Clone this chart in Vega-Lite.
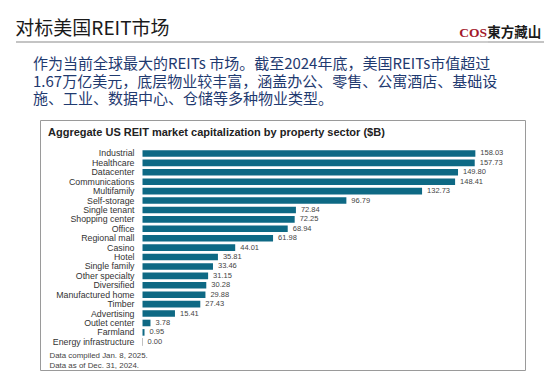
{
  "$schema": "https://vega.github.io/schema/vega-lite/v6.json",
  "background": "white",
  "autosize": {"type": "pad"},
  "padding": {"left": 15, "top": 20, "right": 7, "bottom": 8},
  "config": {
    "view": {"stroke": null},
    "font": "Liberation Sans",
    "title": {"fontWeight": "normal"}
  },
  "bounds": "flush",
  "spacing": 78,
  "vconcat": [
    {
      "bounds": "flush",
      "spacing": 0,
      "hconcat": [
        {
          "width": 444, "height": 0.01,
          "title": {"text": "对标美国REIT市场", "anchor": "start", "font": "Noto Sans CJK SC", "fontSize": 19, "fontWeight": "normal", "color": "#1a1a1a", "baseline": "alphabetic", "offset": -13},
          "data": {"values": [{"part": "divider"}]},
          "mark": {"type": "rule", "color": "#b0b0b0", "strokeWidth": 1.3},
          "encoding": {"y": {"datum": 1, "type": "quantitative", "scale": {"domain": [0, 1]}, "axis": null}}
        },
        {
          "width": 28, "height": 0.01,
          "title": {"text": "COS", "anchor": "start", "font": "Liberation Serif", "fontSize": 13.5, "fontWeight": "bold", "color": "#a3192b", "baseline": "alphabetic", "offset": -9},
          "data": {"values": [{"part": "divider"}]},
          "mark": {"type": "rule", "color": "#b0b0b0", "strokeWidth": 1.3},
          "encoding": {"y": {"datum": 1, "type": "quantitative", "scale": {"domain": [0, 1]}, "axis": null}}
        },
        {
          "width": 56, "height": 0.01,
          "title": {"text": "東方藏山", "anchor": "start", "font": "Noto Sans CJK TC", "fontSize": 13.5, "fontWeight": "bold", "color": "#1a1a1a", "baseline": "alphabetic", "offset": -9},
          "data": {"values": [{"part": "divider"}]},
          "mark": {"type": "rule", "color": "#b0b0b0", "strokeWidth": 1.3},
          "encoding": {"y": {"datum": 1, "type": "quantitative", "scale": {"domain": [0, 1]}, "axis": null}}
        }
      ]
    },
    {
      "bounds": "flush",
      "spacing": 0,
      "title": {
        "text": [
          "作为当前全球最大的REITs 市场。截至2024年底，美国REITs市值超过",
          "1.67万亿美元，底层物业较丰富，涵盖办公、零售、公寓酒店、基础设",
          "施、工业、数据中心、仓储等多种物业类型。"
        ],
        "anchor": "start", "dx": 17, "offset": 12.5,
        "font": "Noto Sans CJK SC", "fontSize": 15, "fontWeight": "normal",
        "lineHeight": 17.3, "color": "#1f3a70"
      },
      "hconcat": [
        {
          "width": 24, "height": 250,
          "data": {"values": []},
          "mark": "point"
        },
        {
          "width": 485, "height": 250,
          "view": {"stroke": "#9a9a9a", "strokeWidth": 1},
          "title": {"text": "Aggregate US REIT market capitalization by property sector ($B)", "anchor": "start", "dx": 8, "offset": -26.5, "baseline": "alphabetic", "font": "Liberation Sans", "fontSize": 11, "fontWeight": "bold", "color": "#222222"},
          "data": {"values": [
            {"sector": "Industrial", "value": 158.03},
            {"sector": "Healthcare", "value": 157.73},
            {"sector": "Datacenter", "value": 149.80},
            {"sector": "Communications", "value": 148.41},
            {"sector": "Multifamily", "value": 132.73},
            {"sector": "Self-storage", "value": 96.79},
            {"sector": "Single tenant", "value": 72.84},
            {"sector": "Shopping center", "value": 72.25},
            {"sector": "Office", "value": 68.94},
            {"sector": "Regional mall", "value": 61.98},
            {"sector": "Casino", "value": 44.01},
            {"sector": "Hotel", "value": 35.81},
            {"sector": "Single family", "value": 33.46},
            {"sector": "Other specialty", "value": 31.15},
            {"sector": "Diversified", "value": 30.28},
            {"sector": "Manufactured home", "value": 29.88},
            {"sector": "Timber", "value": 27.43},
            {"sector": "Advertising", "value": 15.41},
            {"sector": "Outlet center", "value": 3.78},
            {"sector": "Farmland", "value": 0.95},
            {"sector": "Energy infrastructure", "value": 0.00}
          ]},
          "encoding": {
            "y": {
              "field": "sector", "type": "nominal",
              "sort": ["Industrial", "Healthcare", "Datacenter", "Communications", "Multifamily", "Self-storage", "Single tenant", "Shopping center", "Office", "Regional mall", "Casino", "Hotel", "Single family", "Other specialty", "Diversified", "Manufactured home", "Timber", "Advertising", "Outlet center", "Farmland", "Energy infrastructure"],
              "scale": {"paddingInner": 0.3, "paddingOuter": 0, "range": [30.2, 225.1]},
              "axis": {"title": null, "offset": -102.5, "domain": false, "ticks": false, "labelPadding": 8.5, "labelFontSize": 8.8, "labelColor": "#333333", "labelFont": "Liberation Sans"}
            }
          },
          "layer": [
            {
              "mark": {"type": "bar", "color": "#0e6984"},
              "encoding": {
                "x": {
                  "field": "value", "type": "quantitative",
                  "scale": {"domain": [-48.67, 181.6], "nice": false, "zero": false},
                  "axis": {
                    "labels": false, "ticks": false, "domain": false, "grid": false,
                    "offset": -19,
                    "title": ["Data compiled Jan. 8, 2025.", "Data as of Dec. 31, 2024."],
                    "titleAnchor": "start", "titleAlign": "left", "titleX": 9, "titleBaseline": "top",
                    "titlePadding": 0, "titleFontSize": 7.9, "titleFontWeight": "normal", "titleColor": "#444444", "titleLineHeight": 10, "titleFont": "Liberation Sans"
                  }
                }
              }
            },
            {
              "mark": {"type": "rule", "color": "#c0c0c0", "strokeWidth": 1},
              "encoding": {
                "x": {"datum": 0, "type": "quantitative"},
                "y": {"datum": "Energy infrastructure", "type": "nominal", "bandPosition": 0},
                "y2": {"datum": "Energy infrastructure", "bandPosition": 1}
              }
            },
            {
              "mark": {"type": "text", "align": "left", "baseline": "middle", "dx": 5, "fontSize": 7.5, "color": "#444444", "font": "Liberation Sans"},
              "encoding": {
                "x": {"field": "value", "type": "quantitative"},
                "text": {"field": "value", "type": "quantitative", "format": ".2f"}
              }
            }
          ]
        }
      ]
    }
  ]
}
